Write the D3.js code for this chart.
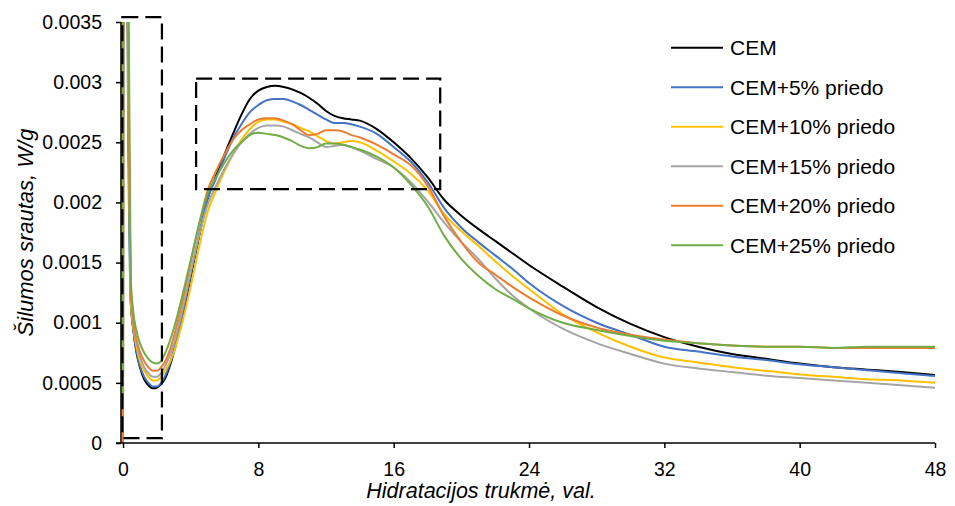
<!DOCTYPE html>
<html>
<head>
<meta charset="utf-8">
<script src="https://cdn.jsdelivr.net/npm/d3@7"></script>
<style>
body { margin: 0; background: #fff; }
svg { display: block; font-family: "Liberation Sans", Arial, sans-serif; }
</style>
</head>
<body>
<div id="chart"></div>
<script>
//hydration time, h
var time = [0, 0.05, 0.3, 0.45, 0.6, 0.8, 1, 1.25, 1.5, 1.75, 2, 2.25, 2.5,
	3, 3.5, 4, 4.5, 5, 5.5, 6, 6.5, 7, 7.5, 8, 8.5, 9, 9.5, 10, 10.5, 11, 11.5, 12, 12.5, 13, 13.5, 14,
	15, 16, 17, 18, 19, 20, 21, 22, 23, 24,
	26, 28, 30, 32, 34, 36, 38, 40, 42, 44, 46, 48];

//heat flow, W/g
var cem = [0.0004, 0.0085, 0.003, 0.0012, 0.00095, 0.00075, 0.00063, 0.00053, 0.00048, 0.000455, 0.00046, 0.00049, 0.00054,
	0.00075, 0.00104, 0.00138, 0.00172, 0.00203, 0.00222, 0.0024, 0.00257, 0.00273, 0.00286, 0.00293, 0.00296, 0.00297, 0.00296, 0.00294, 0.00291, 0.00287, 0.00282, 0.00276, 0.00272, 0.0027, 0.00269, 0.00268,
	0.00261, 0.0025, 0.00237, 0.00221, 0.00202, 0.00189, 0.00178, 0.00168, 0.00158, 0.00148,
	0.0013, 0.00113, 0.00099, 0.00088, 0.0008, 0.00074, 0.0007, 0.00066, 0.00063, 0.00061, 0.00059, 0.000566];
var cem5 = [0.0004, 0.0085, 0.0026, 0.0012, 0.00095, 0.00076, 0.00064, 0.00055, 0.0005, 0.00047, 0.00047, 0.0005, 0.00056,
	0.00077, 0.00106, 0.0014, 0.00173, 0.00203, 0.0022, 0.00237, 0.00253, 0.00265, 0.00275, 0.00281, 0.00285, 0.00286, 0.00286, 0.00284, 0.00281, 0.00277, 0.00273, 0.00269, 0.00266, 0.00266, 0.00265, 0.00263,
	0.00257, 0.00246, 0.00234, 0.00217, 0.00195, 0.00179, 0.00167, 0.00156, 0.00145, 0.00133,
	0.00114, 0.001, 0.0009, 0.0008, 0.00076, 0.00072, 0.00069, 0.000655, 0.00063, 0.000605, 0.00058, 0.000557];
var cem10 = [0.0004, 0.0085, 0.003, 0.0012, 0.00097, 0.0008, 0.00068, 0.0006, 0.00055, 0.00052, 0.00052, 0.00055, 0.0006,
	0.00075, 0.001, 0.0013, 0.00163, 0.00192, 0.0021, 0.00226, 0.0024, 0.00252, 0.00261, 0.00267, 0.00269, 0.00269, 0.00267, 0.00265, 0.00262, 0.00259, 0.00255, 0.00251, 0.00249, 0.0025, 0.00251, 0.0025,
	0.00243, 0.00234, 0.00224, 0.0021, 0.0019, 0.00176, 0.00164, 0.00151, 0.00139, 0.00128,
	0.00107, 0.00092, 0.0008, 0.00071, 0.00067, 0.00063, 0.0006, 0.00057, 0.00055, 0.00053, 0.00052, 0.0005];
var cem15 = [0.0004, 0.0085, 0.0032, 0.0013, 0.001, 0.00083, 0.00072, 0.00063, 0.00058, 0.00055, 0.00055, 0.00058, 0.00064,
	0.00082, 0.0011, 0.00142, 0.00173, 0.00198, 0.00214, 0.00228, 0.0024, 0.0025, 0.00257, 0.00262, 0.00264, 0.00264, 0.00263, 0.0026, 0.00257, 0.00254, 0.0025, 0.00246, 0.00247, 0.00248, 0.00246, 0.00243,
	0.00236, 0.00229, 0.00217, 0.00201, 0.00183, 0.00167, 0.00153, 0.00137, 0.00123, 0.00112,
	0.00095, 0.00083, 0.00074, 0.00066, 0.00062, 0.00059, 0.00056, 0.00054, 0.00052, 0.0005, 0.00048, 0.00046];
var cem20 = [0, 0.0085, 0.0033, 0.0013, 0.00102, 0.00086, 0.00076, 0.00068, 0.00063, 0.0006, 0.0006, 0.00063, 0.00068,
	0.00088, 0.00117, 0.0015, 0.00182, 0.0021, 0.00226, 0.0024, 0.00252, 0.0026, 0.00265, 0.00269, 0.0027, 0.0027, 0.00268, 0.00265, 0.0026, 0.00256, 0.00257, 0.0026, 0.0026, 0.00259, 0.00256, 0.00254,
	0.00248, 0.0024, 0.00231, 0.00214, 0.00188, 0.00167, 0.0015, 0.0014, 0.0013, 0.00121,
	0.00106, 0.00096, 0.0009, 0.00086, 0.00083, 0.00081, 0.0008, 0.0008, 0.00079, 0.00079, 0.00079, 0.00079];
var cem25 = [0.00036, 0.0085, 0.0045, 0.0014, 0.0011, 0.00093, 0.00083, 0.00075, 0.0007, 0.00067, 0.00066, 0.00068, 0.00075,
	0.00095, 0.00122, 0.00152, 0.00182, 0.00207, 0.00221, 0.00233, 0.00243, 0.0025, 0.00256, 0.00258, 0.00257, 0.00256, 0.00254, 0.00251, 0.00247, 0.00245, 0.00246, 0.00249, 0.00249, 0.00248, 0.00246, 0.00244,
	0.00238, 0.00229, 0.00215, 0.00197, 0.00172, 0.00153, 0.00139, 0.00128, 0.0012, 0.00112,
	0.001, 0.00094, 0.00089, 0.00085, 0.00083, 0.00081, 0.0008, 0.0008, 0.00079, 0.0008, 0.0008, 0.0008];

var seriesNames = ["CEM", "CEM+5% priedo", "CEM+10% priedo", "CEM+15% priedo", "CEM+20% priedo", "CEM+25% priedo"];
var seriesValues = [cem, cem5, cem10, cem15, cem20, cem25];
var colours = ["#000000", "#4472C4", "#FFC000", "#A5A5A5", "#ED7D31", "#70AD47"];

var xTicks = [0, 8, 16, 24, 32, 40, 48];
var yTicks = [0, 0.0005, 0.001, 0.0015, 0.002, 0.0025, 0.003, 0.0035];
var yTickLabels = ["0", "0.0005", "0.001", "0.0015", "0.002", "0.0025", "0.003", "0.0035"];

//dashed boxes [t0, t1, v0, v1]
var boxes = [[-0.04, 2.3, 0.00004, 0.00354], [4.32, 18.75, 0.00211, 0.00303]];

var width = 955,
	height = 506,
	plotLeft = 121,
	plotRight = 935,
	plotTop = 22,
	plotBottom = 443;

var x = d3.scaleLinear().domain([-0.12, 48]).range([plotLeft, plotRight]);
var y = d3.scaleLinear().domain([0, 0.0035]).range([plotBottom, plotTop]);

var svg = d3.select("#chart")
	.append("svg")
	.attr("width", width)
	.attr("height", height);

svg.append("defs").append("clipPath")
	.attr("id", "plotClip")
	.append("rect")
	.attr("x", plotLeft)
	.attr("y", plotTop)
	.attr("width", plotRight - plotLeft)
	.attr("height", plotBottom - plotTop);

//series lines
var line = d3.line()
	.x(function(d) { return x(d[0]); })
	.y(function(d) { return y(d[1]); })
	.curve(d3.curveMonotoneX);

var lines = svg.append("g").attr("clip-path", "url(#plotClip)");
seriesValues.forEach(function(vals, i) {
	var pts = time.map(function(t, j) { return [t, vals[j]]; });
	lines.append("path")
		.datum(pts)
		.attr("d", line)
		.attr("fill", "none")
		.attr("stroke", colours[i])
		.attr("stroke-width", 2)
		.attr("stroke-linejoin", "round");
});

//dashed boxes
svg.selectAll(".box")
	.data(boxes)
	.enter()
	.append("rect")
	.attr("class", "box")
	.attr("x", function(d) { return x(d[0]); })
	.attr("y", function(d) { return y(d[3]); })
	.attr("width", function(d) { return x(d[1]) - x(d[0]); })
	.attr("height", function(d) { return y(d[2]) - y(d[3]); })
	.attr("fill", "none")
	.attr("stroke", "#000")
	.attr("stroke-width", 2.25)
	.attr("stroke-dasharray", "16,7");

//axes
var yAxis = svg.append("g")
	.attr("transform", "translate(" + plotLeft + ",0)")
	.call(d3.axisLeft(y).tickValues(yTicks).tickSize(5).tickPadding(14)
		.tickFormat(function(d, i) { return yTickLabels[i]; }));

var xAxis = svg.append("g")
	.attr("transform", "translate(0," + plotBottom + ")")
	.call(d3.axisBottom(x).tickValues(xTicks).tickSize(5).tickPadding(14).tickFormat(d3.format("d")));

[xAxis, yAxis].forEach(function(ax) {
	ax.select(".domain").attr("stroke", "#000").attr("stroke-width", 1.5);
	ax.selectAll(".tick line").attr("stroke", "#000").attr("stroke-width", 1.5);
	ax.selectAll("text")
		.attr("fill", "#000")
		.style("font-size", "19.5px")
		.style("font-family", "'Liberation Sans', Arial, sans-serif");
});
//keep x axis line starting at the y axis
xAxis.select(".domain").attr("d", "M" + (plotLeft - 5) + ",0H" + plotRight);
yAxis.select(".domain").attr("d", "M0," + plotTop + "V" + plotBottom);

//axis titles
svg.append("text")
	.attr("x", 481)
	.attr("y", 498)
	.attr("text-anchor", "middle")
	.style("font-size", "21.5px")
	.style("font-style", "italic")
	.text("Hidratacijos trukmė, val.");

svg.append("text")
	.attr("transform", "translate(33," + ((plotTop + plotBottom) / 2) + ") rotate(-90)")
	.attr("text-anchor", "middle")
	.style("font-size", "22px")
	.style("font-style", "italic")
	.text("Šilumos srautas, W/g");

//legend
var legend = svg.append("g").attr("transform", "translate(671,47.7)");
seriesNames.forEach(function(name, i) {
	var row = legend.append("g").attr("transform", "translate(0," + (i * 39.5) + ")");
	row.append("line")
		.attr("x1", 0).attr("x2", 52)
		.attr("stroke", colours[i])
		.attr("stroke-width", 2);
	row.append("text")
		.attr("x", 59)
		.attr("dy", "0.36em")
		.style("font-size", "21px")
		.text(name);
});
</script>
</body>
</html>
